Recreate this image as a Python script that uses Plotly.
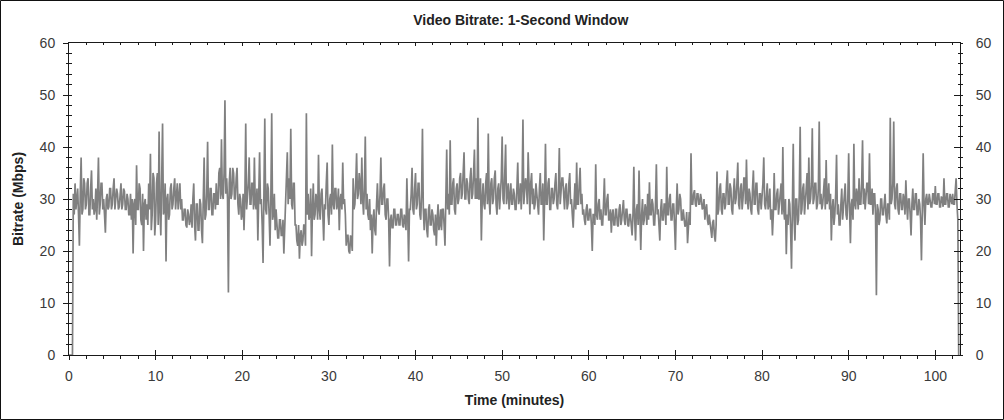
import plotly.graph_objects as go

# ---- data (Mbps, one value every 0.1 min = 6 s) ----
bitrate_mbps = [
    0, 0, 0, 0, 0, 31, 27, 33, 28, 30,
    32, 27, 21, 31, 38, 27, 28, 34, 33, 28,
    29, 33, 34, 27, 27, 32, 35.5, 28, 30, 27,
    28, 32, 26, 31, 38, 27, 29, 33, 33, 28,
    30, 27, 23.5, 30, 31, 28, 28.5, 32, 32, 28,
    29, 32, 34, 28, 29.5, 32, 31, 28, 28.5, 31,
    33, 28, 29, 32, 31.5, 28, 28, 31, 30, 27,
    27, 31, 26, 30, 19.5, 29, 30, 25, 36.5, 28,
    28, 33, 32, 26, 25, 31, 20, 29, 30, 26,
    29, 25, 33, 28, 38.7, 24, 27, 35, 34, 23,
    26, 33, 35, 25, 43, 28, 23, 34, 44.5, 27,
    28, 33, 18, 30, 31, 26, 27, 32, 33, 28,
    29, 32, 34, 28, 30, 33, 28, 31, 33, 28,
    30, 26, 26, 28, 28, 25, 24.5, 28, 27, 25,
    26, 29, 24.5, 30, 33, 25, 22, 29, 29, 24,
    24, 30, 29, 24, 21.5, 30, 38, 26, 27, 31,
    41, 28, 28, 32, 32, 27, 27, 31, 31, 28,
    33, 29, 29, 35, 36, 30, 41.5, 31, 30, 35,
    49, 31, 34, 30, 12, 33, 36, 30, 31, 36,
    35, 30, 30, 34, 36, 29, 27, 31, 30, 26,
    27, 31, 24, 30, 44.5, 28, 30, 33, 38, 29,
    29, 33, 33, 28, 38, 29, 28, 32, 22, 30,
    39, 29, 30, 25, 17.7, 31, 45.5, 28, 27, 33,
    32, 27, 21, 30, 46.5, 26, 27, 31, 24, 28,
    25, 22.5, 22.5, 26, 26, 23, 23, 26, 19.5, 24,
    30, 33, 39, 29, 34, 30, 43.5, 29, 28, 33,
    33, 25, 25, 22, 21, 25, 18.5, 23, 24, 21,
    22, 25, 25, 21, 46.5, 27, 31, 26, 27, 32,
    19, 28, 33, 26, 27, 31, 30, 26, 38.5, 28,
    26, 31, 32, 27, 22, 29, 28, 33, 37, 27,
    25, 30, 31, 27, 40.5, 29, 28, 32, 32, 28,
    29, 32, 24, 30, 31, 28, 37, 29, 30, 27,
    21, 23, 23, 20, 19.5, 23, 22, 20, 34, 28,
    29, 33, 38.8, 30, 31, 35, 33, 29, 38, 30,
    27, 32, 42, 28, 31, 27, 26, 30, 24, 27,
    19.5, 26, 28, 24, 23, 29, 33, 28, 27, 31,
    38, 29, 29, 32, 33, 27, 26, 30, 30, 26,
    17, 26, 27, 24.5, 24.5, 28, 28, 25, 25, 27,
    27, 25, 25, 28, 28, 25, 24.5, 27, 26, 24,
    34, 27, 18, 28, 28, 31, 36, 28, 27, 32,
    35, 28, 29, 33, 33, 27, 26, 31, 43.5, 28,
    24, 28, 28, 24, 22.6, 28, 29, 25, 25, 28,
    27, 24, 23, 27, 21, 26, 29, 24, 25, 28,
    24, 28, 28, 25, 21, 30, 39.5, 28, 31, 27,
    41.3, 29, 29, 33, 34, 28, 27, 32, 33, 29,
    30, 34, 35, 30, 31, 35, 39, 30, 30, 34,
    33, 30, 29, 34, 36, 30, 31, 35, 39.5, 30,
    34, 30, 45.6, 30, 30, 34, 22, 30, 33, 29,
    28, 33, 35, 29, 42.6, 30, 27, 33, 34, 29,
    30, 34, 35.5, 29, 27, 32, 33, 28, 31, 34,
    42, 30, 29, 33, 40.5, 29, 31, 33, 28, 32,
    33, 29, 29, 32, 31, 28, 28, 32, 37, 29,
    30, 33, 28, 32, 45.3, 29, 31, 34, 33, 29,
    39, 30, 27, 33, 35, 29, 32, 28, 29, 33,
    31, 28, 27, 32, 35, 29, 29, 33, 22, 30,
    40.6, 29, 29, 33, 34, 28, 28, 32, 32, 29,
    30, 33, 35, 29, 28, 32, 39.8, 29, 31, 34,
    34, 29, 28, 32, 33, 28, 29, 33, 35, 29,
    30, 27, 24.5, 29, 33, 28, 37, 29, 29, 33,
    36, 29, 31, 27, 28, 26, 25, 28, 29, 26,
    26, 28, 28, 25, 20, 27, 27, 25, 36.7, 27,
    26, 29, 30, 26, 28, 25, 25, 29, 34, 27,
    27, 30, 31, 26, 26, 28, 23.5, 27, 28, 25,
    25, 28, 28, 25, 24.7, 28, 29, 25, 26, 28,
    29.8, 26, 25, 28, 28, 25, 24.7, 27, 27, 25,
    23, 27, 36.2, 26, 22, 28, 29, 25, 35.5, 27,
    20.2, 27, 30, 25, 26, 29, 28, 25, 31, 26,
    33.2, 27, 27, 30, 29, 25, 25, 29, 36.7, 27,
    28, 25, 22, 28, 30, 26, 26, 29, 29, 25,
    36.2, 27, 27, 30, 31, 26, 26, 29, 29, 25,
    20.2, 28, 33, 27, 28, 31, 30, 26, 26, 28,
    26, 24.7, 25, 27.5, 21.5, 26, 27.5, 25, 38.8, 29,
    29, 31, 31.7, 29, 28.5, 31, 31, 29, 29, 31,
    30, 28, 28.3, 30, 26, 28, 29, 26, 25, 27,
    25, 23, 22.5, 25.5, 26, 23, 21.8, 25, 35.3, 27,
    28, 32, 33, 28, 27, 31, 31, 28, 29, 33,
    35.5, 29, 29, 33, 32, 28, 27, 31, 34, 29,
    30, 33, 37, 29, 28, 32, 33, 28, 30, 34,
    34, 29, 37.6, 30, 28, 32, 31, 28, 27, 32,
    35.5, 29, 29, 33, 33, 28, 27, 31, 31, 28,
    30, 33, 38, 29, 28, 32, 33, 28, 29, 32,
    26, 28, 23, 27, 35, 28, 28, 31, 32, 27,
    29, 32, 33, 27, 40, 28, 26, 30, 19.4, 27,
    25, 30, 29, 24, 16.6, 28, 40.6, 26, 22, 30,
    30, 25, 26, 31, 43.9, 27, 28, 32, 33, 27,
    29, 32, 35, 28, 38, 29, 30, 33, 43.6, 29,
    30, 33, 33, 28, 29, 32, 44.9, 29, 31, 28,
    29, 32, 34, 28, 37.5, 29, 30, 33, 28, 31,
    22, 28, 30, 25, 27, 31, 38.5, 27, 29, 25,
    25, 29, 32, 26, 28, 31, 33, 27, 26, 30,
    38.8, 28, 21.5, 29, 30, 26, 40.6, 29, 28, 32,
    31, 28, 34, 29, 29, 33, 41.3, 29, 32, 28,
    30, 33, 33, 29, 38.8, 29, 29, 32, 27, 31,
    31, 27, 11.5, 29, 28, 25, 26, 30, 30, 27,
    27, 30, 31, 27, 25.3, 29, 29, 26, 45.6, 29,
    30, 33, 44.9, 29, 28, 32, 33, 28, 27, 31,
    31, 28, 28, 31, 30, 27, 33.6, 29, 26, 30,
    30, 27, 23, 29, 32, 28, 28, 31, 31, 27,
    27, 30, 29, 26, 18.2, 28, 38.8, 29, 25, 30,
    31, 29, 29, 31, 30, 28.5, 28.5, 31, 31, 29,
    32.5, 29, 29, 31, 31, 28.5, 28.5, 30.5, 30, 28.5,
    34, 29, 29, 31, 31, 28.5, 28.5, 31, 30, 29,
    31, 29, 29, 31, 34, 29, 26, 0,
]
sample_step_min = 0.1
time_min = [round(i * sample_step_min, 1) for i in range(len(bitrate_mbps))]

x_range = [0, 102.85]
y_range = [0, 60]
x_tick_vals = [0, 10, 20, 30, 40, 50, 60, 70, 80, 90, 100]
y_tick_vals = [0, 10, 20, 30, 40, 50, 60]

title_text = "Video Bitrate: 1-Second Window"
x_title = "Time (minutes)"
y_title = "Bitrate (Mbps)"

# ---- figure ----
FONT = "Liberation Sans, Arial, sans-serif"
AX = "#1a1a1a"
LBL = "#3a3a3a"

fig = go.Figure()
fig.add_trace(go.Scatter(
    x=time_min, y=bitrate_mbps, mode="lines",
    line=dict(color="#808080", width=1.7),
    showlegend=False, hoverinfo="x+y",
))
# empty helper traces so that the extra tick axes are drawn
for xa, ya in [("x2", "y"), ("x3", "y"), ("x", "y2"), ("x", "y3"), ("x", "y4")]:
    fig.add_trace(go.Scatter(x=[], y=[], xaxis=xa, yaxis=ya, showlegend=False, hoverinfo="skip"))

tickfont = dict(family=FONT, size=14, color=LBL)
common_x = dict(range=x_range, showgrid=False, zeroline=False, tickvals=x_tick_vals, fixedrange=True)
common_y = dict(range=y_range, showgrid=False, zeroline=False, tickvals=y_tick_vals, fixedrange=True)

fig.update_layout(
    width=1004, height=420,
    margin=dict(l=69, r=44, t=43, b=65, autoexpand=False),
    paper_bgcolor="white", plot_bgcolor="white",
    font=dict(family=FONT, color=LBL),
    title=dict(text="<b>" + title_text + "</b>", x=0.507, xref="paper", xanchor="center",
               y=0.952, yref="container", yanchor="middle",
               font=dict(family=FONT, size=14, color="#222")),
    xaxis=dict(**common_x, side="bottom", anchor="y", showline=True, linecolor=AX, linewidth=1,
               ticks="outside", ticklen=4, tickcolor=AX, tickwidth=1,
               minor=dict(dtick=2, ticks="outside", ticklen=3, tickcolor=AX, tickwidth=1),
               tickfont=tickfont, ticklabelstandoff=4,
               title=dict(text="<b>" + x_title + "</b>", standoff=12,
                          font=dict(family=FONT, size=14, color="#222"))),
    xaxis2=dict(**common_x, overlaying="x", side="bottom", anchor="y", showline=False,
                ticks="inside", ticklen=5, tickcolor=AX, tickwidth=1, showticklabels=False),
    xaxis3=dict(**common_x, overlaying="x", side="top", anchor="y", showline=True, linecolor=AX, linewidth=1,
                ticks="inside", ticklen=3, tickcolor=AX, tickwidth=1, showticklabels=False,
                minor=dict(dtick=2, ticks="inside", ticklen=2, tickcolor=AX, tickwidth=1)),
    yaxis=dict(**common_y, side="left", anchor="x", showline=True, linecolor=AX, linewidth=1,
               ticks="outside", ticklen=5, tickcolor=AX, tickwidth=1,
               minor=dict(dtick=2, ticks="outside", ticklen=2, tickcolor=AX, tickwidth=1),
               tickfont=tickfont, ticklabelstandoff=5,
               title=dict(text="<b>" + y_title + "</b>", standoff=12,
                          font=dict(family=FONT, size=14, color="#222"))),
    yaxis2=dict(**common_y, overlaying="y", side="left", anchor="x", showline=False,
                ticks="inside", ticklen=3, tickcolor=AX, tickwidth=1, showticklabels=False,
                minor=dict(dtick=2, ticks="inside", ticklen=3, tickcolor=AX, tickwidth=1)),
    yaxis3=dict(**common_y, overlaying="y", side="right", anchor="x", showline=True, linecolor=AX, linewidth=1,
                ticks="outside", ticklen=2, tickcolor=AX, tickwidth=1,
                minor=dict(dtick=2, ticks="outside", ticklen=2, tickcolor=AX, tickwidth=1),
                tickfont=tickfont, ticklabelstandoff=10),
    yaxis4=dict(**common_y, overlaying="y", side="right", anchor="x", showline=False,
                ticks="inside", ticklen=6, tickcolor=AX, tickwidth=1, showticklabels=False,
                minor=dict(dtick=2, ticks="inside", ticklen=2, tickcolor=AX, tickwidth=1)),
)

# outer frame of the picture
plot_w = 1004 - 69 - 44
plot_h = 420 - 43 - 65
fig.add_shape(type="rect", xref="paper", yref="paper",
              x0=(0.5 - 69) / plot_w, x1=(1003.5 - 69) / plot_w,
              y0=(0.5 - 65) / plot_h, y1=(419.5 - 65) / plot_h,
              line=dict(color="#111", width=1), layer="above")

fig.write_html("out.html", config={"displayModeBar": False},
               post_script="document.body.style.margin='0';document.body.style.overflow='hidden';")
